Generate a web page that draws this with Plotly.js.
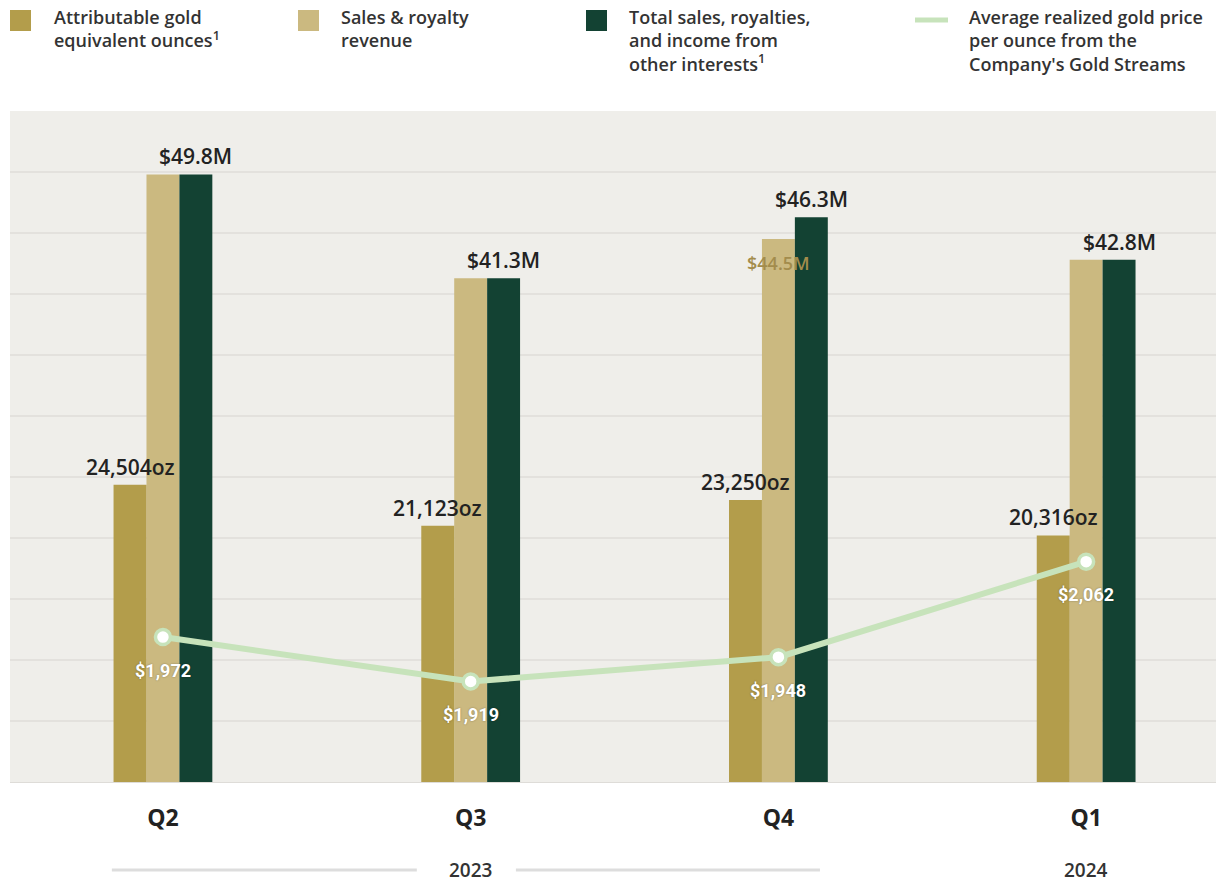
<!DOCTYPE html>
<html><head><meta charset="utf-8">
<script src="https://cdn.plot.ly/plotly-3.0.1.min.js"></script>
<style>html,body{margin:0;padding:0;background:#fff}#chart{width:1216px;height:883px}</style>
</head><body><div id="chart"></div>
<script>
// ---- data ----
const quarters = ['Q2', 'Q3', 'Q4', 'Q1'];
const years = ['2023', '2024'];
const ounces = [24504, 21123, 23250, 20316];          // attributable GEOs
const salesRoyalty = [49.8, 41.3, 44.5, 42.8];        // $M
const totalRevenue = [49.8, 41.3, 46.3, 42.8];        // $M
const goldPrice = [1972, 1919, 1948, 2062];           // $/oz
const legendLabels = [
  'Attributable gold<br>equivalent ounces<sup>1</sup>',
  'Sales &amp; royalty<br>revenue',
  'Total sales, royalties,<br>and income from<br>other interests<sup>1</sup>',
  'Average realized gold price<br>per ounce from the<br>Company\'s Gold Streams'
];

// ---- style ----
const C_GOLD = '#b39d4b', C_TAN = '#cbb980', C_GREEN = '#134233', C_LINE = '#c7e3bb';
const FONT = '"Open Sans", Lato, sans-serif';
const BW = 0.107;
const xs = quarters.map((_, i) => i);

// pixel helpers for paper coords (plot area: x 10..1216, y 111..782)
const px = x => (x - 10) / 1206;
const py = y => (782 - y) / 671;

const traces = [
  {type: 'bar', x: xs, y: ounces, yaxis: 'y2', width: BW, offset: -1.5 * BW,
   marker: {color: C_GOLD}, name: 'Attributable gold equivalent ounces'},
  {type: 'bar', x: xs, y: salesRoyalty, width: BW, offset: -0.5 * BW,
   marker: {color: C_TAN}, name: 'Sales & royalty revenue'},
  {type: 'bar', x: xs, y: totalRevenue, width: BW, offset: 0.5 * BW,
   marker: {color: C_GREEN}, name: 'Total sales, royalties, and income from other interests'},
  {type: 'scatter', mode: 'lines+markers', x: xs, y: goldPrice, yaxis: 'y3',
   line: {color: C_LINE, width: 6},
   marker: {size: 15, color: '#ffffff', line: {color: C_LINE, width: 3.5}},
   name: 'Average realized gold price', cliponaxis: false}
];

const annotations = [];
const fmtM = v => '$' + v.toFixed(1) + 'M';
quarters.forEach((q, i) => {
  annotations.push({x: i + BW, y: totalRevenue[i], xref: 'x', yref: 'y', text: fmtM(totalRevenue[i]),
    showarrow: false, yanchor: 'bottom', yshift: 2,
    font: {family: FONT, size: 21, color: '#222', weight: 600}});
  if (salesRoyalty[i] !== totalRevenue[i]) {
    annotations.push({x: i, y: salesRoyalty[i], xref: 'x', yref: 'y', text: fmtM(salesRoyalty[i]),
      showarrow: false, yanchor: 'middle', yshift: -24,
      font: {family: FONT, size: 18, color: '#a38c4c', weight: 600}});
  }
  annotations.push({x: i - BW, y: ounces[i], xref: 'x', yref: 'y2', text: ounces[i].toLocaleString('en-US') + 'oz',
    showarrow: false, yanchor: 'bottom', yshift: 2,
    font: {family: FONT, size: 21, color: '#222', weight: 600}});
  annotations.push({x: i, y: goldPrice[i], xref: 'x', yref: 'y3', text: '$' + goldPrice[i].toLocaleString('en-US'),
    showarrow: false, yanchor: 'middle', yshift: -33,
    font: {family: 'Roboto, sans-serif', size: 18, color: '#ffffff', weight: 700, shadow: '0px 0px 2px rgba(0,0,0,0.35)'}});
});

// year labels
years.forEach((yr, k) => {
  annotations.push({x: k === 0 ? 1 : 3, y: py(870), xref: 'x', yref: 'paper', text: yr, showarrow: false,
    yanchor: 'middle', font: {family: FONT, size: 19, color: '#333', weight: 600}});
});

// legend text
const legTextX = [52, 339, 627, 967];
legendLabels.forEach((t, i) => {
  annotations.push({x: px(legTextX[i]), y: py(3), xref: 'paper', yref: 'paper', text: t,
    showarrow: false, xanchor: 'left', yanchor: 'top', align: 'left',
    font: {family: FONT, size: 18, color: '#333', weight: 600}});
});

const shapes = [
  // year bracket lines
  {type: 'line', xref: 'x', yref: 'paper', x0: -0.166, x1: 0.825, y0: py(870), y1: py(870), line: {color: '#dddddd', width: 3}},
  {type: 'line', xref: 'x', yref: 'paper', x0: 1.147, x1: 2.135, y0: py(870), y1: py(870), line: {color: '#dddddd', width: 3}},
  // legend symbols
  {type: 'rect', xref: 'paper', yref: 'paper', x0: px(10), x1: px(31), y0: py(10), y1: py(31), fillcolor: C_GOLD, line: {width: 0}},
  {type: 'rect', xref: 'paper', yref: 'paper', x0: px(298), x1: px(319), y0: py(10), y1: py(31), fillcolor: C_TAN, line: {width: 0}},
  {type: 'rect', xref: 'paper', yref: 'paper', x0: px(586), x1: px(607), y0: py(10), y1: py(31), fillcolor: C_GREEN, line: {width: 0}},
  {type: 'line', xref: 'paper', yref: 'paper', x0: px(915), x1: px(948), y0: py(20), y1: py(20), line: {color: C_LINE, width: 5}}
];

const layout = {
  width: 1216, height: 883,
  margin: {l: 10, r: 0, t: 111, b: 101},
  paper_bgcolor: '#ffffff', plot_bgcolor: '#efeeea',
  showlegend: false, barmode: 'overlay',
  font: {family: FONT, color: '#222'},
  xaxis: {range: [-0.497, 3.422], tickvals: xs, ticktext: quarters, showgrid: false, zeroline: false,
          showline: true, linecolor: '#dedcd8', linewidth: 1, ticks: '', ticklabelstandoff: 15,
          tickfont: {family: FONT, size: 23, color: '#222', weight: 700}, fixedrange: true},
  yaxis: {range: [0, 55], dtick: 5, showticklabels: false, gridcolor: '#e3e1dd', gridwidth: 2,
          zeroline: false, fixedrange: true},
  yaxis2: {range: [0, 55300], overlaying: 'y', showticklabels: false, showgrid: false, zeroline: false},
  yaxis3: {range: [1799, 2600], overlaying: 'y', showticklabels: false, showgrid: false, zeroline: false},
  annotations: annotations,
  shapes: shapes
};

Plotly.newPlot('chart', traces, layout, {displayModeBar: false, staticPlot: true});
</script></body></html>
